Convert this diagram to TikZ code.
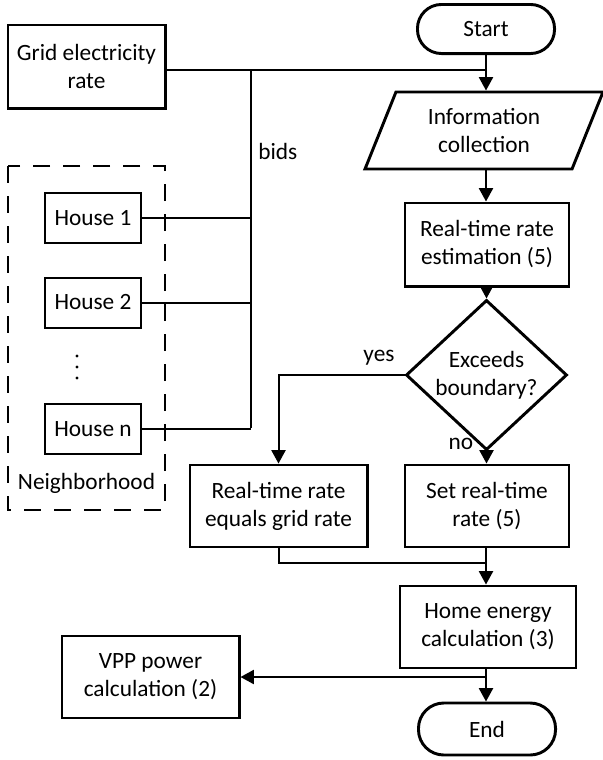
\documentclass[tikz,border=0pt]{standalone}
\usepackage{fontspec}
\setmainfont{Carlito}
\usetikzlibrary{shapes.geometric,arrows.meta}
\begin{document}
\begin{tikzpicture}[x=0.75pt,y=-0.75pt,
  font=\fontsize{17.5pt}{21pt}\selectfont,
  box/.style={draw,line width=2.2pt,rectangle,align=center,inner sep=0pt},
  housebox/.style={draw,line width=1.5pt,rectangle,align=center,inner sep=0pt,minimum width=71.3pt,minimum height=37.5pt},
  term/.style={draw,line width=2.2pt,rectangle,rounded corners=18pt,align=center,inner sep=0pt,minimum width=102.8pt},
  conn/.style={line width=1.5pt},
  arr/.style={line width=1.5pt,-{Triangle[length=10pt,width=10.5pt]}},
  lbl/.style={inner sep=0pt},
  dotmark/.style={fill=black}
]
\useasboundingbox (0,0) rectangle (603,760);

\node[term,minimum height=36.8pt] (start) at (486,29) {Start};
\node[box,minimum width=117.8pt,minimum height=62.3pt] (grid) at (86.5,66.5) {Grid electricity\\rate};
\node[draw,line width=2.2pt,trapezium,trapezium left angle=66,trapezium right angle=114,trapezium stretches=true,minimum width=178.5pt,minimum height=57.75pt,inner sep=0pt,align=center] (info) at (484,130.5) {Information\\collection};
\node[box,minimum width=123pt,minimum height=62.3pt] (est) at (487,244.5) {Real-time rate\\estimation (5)};
\node[draw,line width=2.2pt,diamond,minimum width=120.8pt,minimum height=79.5pt,inner sep=0pt,align=center] (dec) at (486.5,375) {Exceeds\\boundary?};
\node[box,minimum width=132.8pt,minimum height=61.5pt] (eq) at (278.5,506) {Real-time rate\\equals grid rate};
\node[box,minimum width=123pt,minimum height=61.5pt] (set) at (487,506) {Set real-time\\rate (5)};
\node[box,minimum width=132pt,minimum height=61.5pt] (home) at (488,627) {Home energy\\calculation (3)};
\node[box,minimum width=132.8pt,minimum height=61.5pt] (vpp) at (150.5,677) {VPP power\\calculation (2)};
\node[term,minimum height=39pt,rounded corners=19pt] (end) at (487,729) {End};

% neighborhood
\draw[line width=2.2pt,dash pattern=on 12.5pt off 10pt] (8,166) rectangle (165,510);
\node[housebox] (h1) at (93,218) {House 1};
\node[housebox] (h2) at (93,302.5) {House 2};
\node[housebox] (hn) at (93,429) {House n};
\fill[dotmark] (77,356) circle (1.2pt) (77,367) circle (1.2pt) (77,378) circle (1.2pt);
\node[lbl] (nb) at (86.5,483) {Neighborhood};
\node[lbl,anchor=west] (bids) at (258,151) {bids};

% junction
\coordinate (jtop) at (251,70);
\coordinate (jbot) at (251,428);
\coordinate (axtop) at (486,70);
\draw[conn] (grid.east |- jtop) -- (axtop);
\draw[conn] (jtop) -- (jbot);
\draw[conn] (h1.east) -- (h1.east -| jtop);
\draw[conn] (h2.east) -- (h2.east -| jtop);
\draw[conn] (hn.east) -- (hn.east -| jtop);

% main flow
\draw[arr] (start.south) -- (start.south |- info.north);
\draw[arr] (start.south |- info.south) -- (start.south |- est.north);
\draw[arr] (est.south -| dec.north) -- (dec.north);
\draw[arr] (dec.west) -| (eq.north);
\draw[arr] (dec.south) -- (dec.south |- set.north);
\node[lbl] (yes) at (379,358) {yes};
\node[lbl] (no) at (461,444) {no};
\coordinate (merge) at (486,563);
\draw[conn] (eq.south) |- (merge);
\draw[arr] (set.south -| merge) -- (merge |- home.north);
\draw[arr] (merge |- home.south) -- (merge |- end.north);
\coordinate (split) at (486,677);
\draw[arr] (split) -- (vpp.east);
\end{tikzpicture}
\end{document}
